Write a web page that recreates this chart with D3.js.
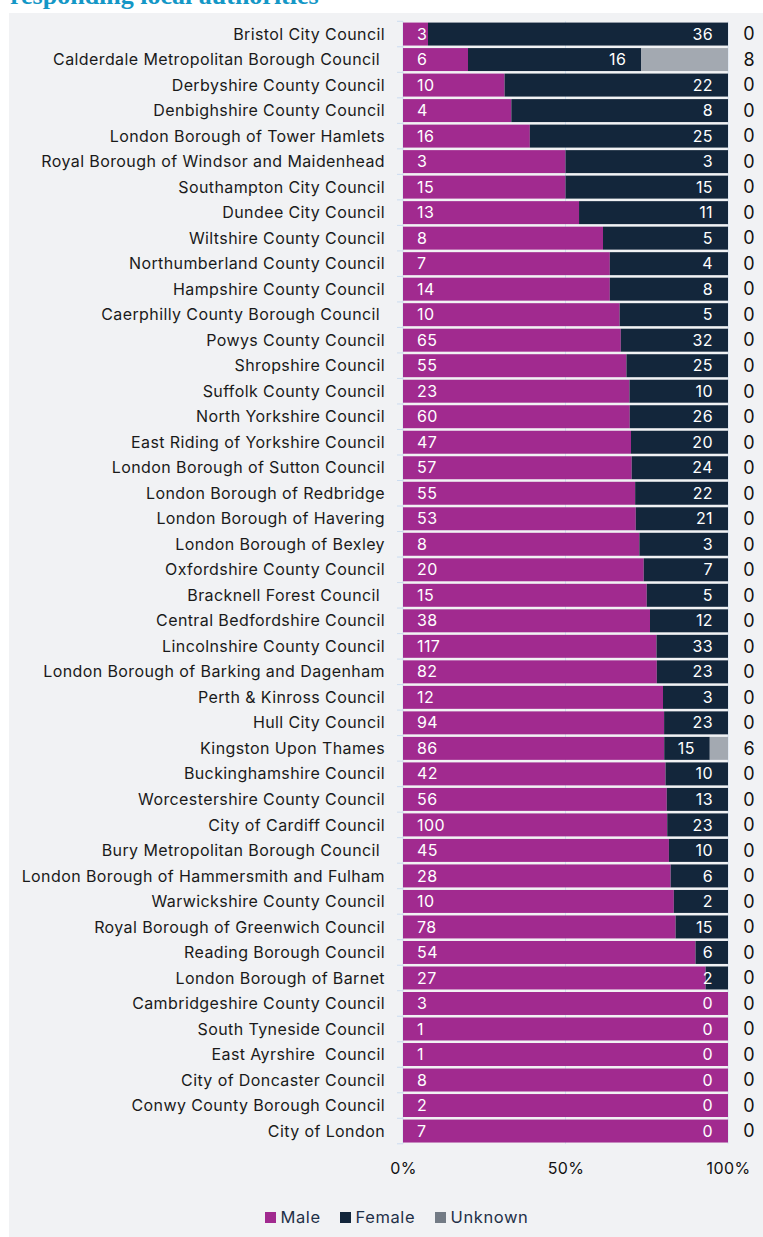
<!DOCTYPE html>
<html>
<head>
<meta charset="utf-8">
<script src="https://cdn.jsdelivr.net/npm/d3@7"></script>
<style>
  body { margin: 0; background: #fff; }
  svg { display: block; }
  text { font-family: Inter, "Noto Sans", sans-serif; letter-spacing: 0.4px; }
</style>
</head>
<body>
<script>
// stacked 100% bars: gender of responding staff per authority

const councils = [
  "Bristol City Council", "Calderdale Metropolitan Borough Council ", "Derbyshire County Council",
  "Denbighshire County Council", "London Borough of Tower Hamlets", "Royal Borough of Windsor and Maidenhead",
  "Southampton City Council", "Dundee City Council", "Wiltshire County Council",
  "Northumberland County Council", "Hampshire County Council", "Caerphilly County Borough Council ",
  "Powys County Council", "Shropshire Council", "Suffolk County Council", "North Yorkshire Council",
  "East Riding of Yorkshire Council", "London Borough of Sutton Council", "London Borough of Redbridge",
  "London Borough of Havering", "London Borough of Bexley", "Oxfordshire County Council",
  "Bracknell Forest Council ", "Central Bedfordshire Council", "Lincolnshire County Council",
  "London Borough of Barking and Dagenham", "Perth & Kinross Council", "Hull City Council",
  "Kingston Upon Thames", "Buckinghamshire Council", "Worcestershire County Council",
  "City of Cardiff Council", "Bury Metropolitan Borough Council ", "London Borough of Hammersmith and Fulham",
  "Warwickshire County Council", "Royal Borough of Greenwich Council", "Reading Borough Council",
  "London Borough of Barnet", "Cambridgeshire County Council", "South Tyneside Council",
  "East Ayrshire  Council", "City of Doncaster Council", "Conwy County Borough Council", "City of London"
];
const male = [3, 6, 10, 4, 16, 3, 15, 13, 8, 7, 14, 10, 65, 55, 23, 60, 47, 57, 55, 53, 8, 20, 15, 38,
  117, 82, 12, 94, 86, 42, 56, 100, 45, 28, 10, 78, 54, 27, 3, 1, 1, 8, 2, 7];
const female = [36, 16, 22, 8, 25, 3, 15, 11, 5, 4, 8, 5, 32, 25, 10, 26, 20, 24, 22, 21, 3, 7, 5, 12,
  33, 23, 3, 23, 15, 10, 13, 23, 10, 6, 2, 15, 6, 2, 0, 0, 0, 0, 0, 0];
const unknown = [0, 8, 0, 0, 0, 0, 0, 0, 0, 0, 0, 0, 0, 0, 0, 0, 0, 0, 0, 0, 0, 0, 0, 0,
  0, 0, 0, 0, 6, 0, 0, 0, 0, 0, 0, 0, 0, 0, 0, 0, 0, 0, 0, 0];
const seriesNames = ["Male", "Female", "Unknown"];
const pctTicks = [0, 0.5, 1];

const W = 763, H = 1237;
const colors = { Male: "#a12a8f", Female: "#13263b", Unknown: "#a3a9b1" };
const legendColors = { Male: "#a12a8f", Female: "#13263b", Unknown: "#737b85" };

const rows = councils.map((name, i) => ({
  name, Male: male[i], Female: female[i], Unknown: unknown[i],
  total: male[i] + female[i] + unknown[i]
}));

const svg = d3.select("body").append("svg").attr("width", W).attr("height", H);

// title sits mostly above the frame, as in the source page
svg.append("text")
  .attr("x", 10).attr("y", 4)
  .style("font-family", "'Liberation Serif', 'DejaVu Serif', serif")
  .style("font-weight", "bold").style("font-size", "26px").style("letter-spacing", "0")
  .attr("fill", "#1497c6")
  .text("responding local authorities");

svg.append("rect").attr("x", 9).attr("y", 13).attr("width", W - 9).attr("height", H - 13)
  .attr("fill", "#f1f2f4");

const x = d3.scaleLinear().domain([0, 1]).range([403, 728]);
const y = d3.scaleBand().domain(councils).range([21.3, 1143.8]).paddingInner(0.1).paddingOuter(0.05);

// grid
svg.append("g").selectAll("line").data(pctTicks).join("line")
  .attr("x1", d => x(d)).attr("x2", d => x(d))
  .attr("y1", y.range()[0]).attr("y2", y.range()[1])
  .attr("stroke", "#d3e0f0").attr("stroke-width", 1);

// tick marks between categories
const bounds = councils.map(c => y(c) - y.step() * y.paddingInner() / 2).concat([y.range()[1]]);
svg.append("g").selectAll("line").data(bounds).join("line")
  .attr("x1", x(0) - 6).attr("x2", x(0))
  .attr("y1", d => d).attr("y2", d => d)
  .attr("stroke", "#ccdcef").attr("stroke-width", 1);

const stack = d3.stack().keys(seriesNames).offset(d3.stackOffsetExpand);
const layers = stack(rows);

svg.append("g").selectAll("g").data(layers).join("g")
  .attr("fill", d => colors[d.key])
  .selectAll("rect").data(d => d).join("rect")
  .attr("x", d => x(d[0]))
  .attr("width", d => Math.max(0, x(d[1]) - x(d[0])))
  .attr("y", d => y(d.data.name))
  .attr("height", y.bandwidth());

const labelFont = "16px";

// category labels
svg.append("g").selectAll("text").data(rows).join("text")
  .attr("x", 385).attr("y", d => y(d.name) + y.bandwidth() / 2)
  .attr("dy", "0.35em").attr("text-anchor", "end")
  .style("font-size", labelFont).style("white-space", "pre")
  .attr("fill", "#1a1a1a")
  .text(d => d.name);

// male counts
svg.append("g").selectAll("text").data(rows).join("text")
  .attr("x", x(0) + 14).attr("y", d => y(d.name) + y.bandwidth() / 2)
  .attr("dy", "0.35em").style("font-size", labelFont).attr("fill", "#fff")
  .text(d => d.Male);

// female counts, right aligned in their segment
svg.append("g").selectAll("text").data(layers[1]).join("text")
  .attr("x", d => x(d[1]) - 15).attr("y", d => y(d.data.name) + y.bandwidth() / 2)
  .attr("dy", "0.35em").attr("text-anchor", "end")
  .style("font-size", labelFont).attr("fill", "#fff")
  .text(d => d.data.Female);

// unknown counts outside
svg.append("g").selectAll("text").data(rows).join("text")
  .attr("x", 749).attr("y", d => y(d.name) + y.bandwidth() / 2)
  .attr("dy", "0.35em").attr("text-anchor", "middle")
  .style("font-size", "18px").style("letter-spacing", "0").attr("fill", "#111")
  .text(d => d.Unknown);

// x axis
const ax = svg.append("g").attr("transform", "translate(0,1163)")
  .call(d3.axisBottom(x).tickValues(pctTicks).tickFormat(d3.format(".0%")).tickSize(0).tickPadding(0));
ax.select(".domain").remove();
ax.selectAll("text").style("font-size", labelFont).attr("fill", "#111")
  .style("font-family", "Inter, 'Noto Sans', sans-serif");

// legend
const legX = [265, 340, 435];
const leg = svg.append("g").selectAll("g").data(seriesNames).join("g")
  .attr("transform", (d, i) => `translate(${legX[i]},1217.5)`);
leg.append("rect").attr("x", 0).attr("y", -5.5).attr("width", 11).attr("height", 11)
  .attr("fill", d => legendColors[d]);
leg.append("text").attr("x", 15.5).attr("dy", "0.35em")
  .style("font-size", "16.5px").style("letter-spacing", "0.6px").attr("fill", "#1f3048")
  .text(d => d);
</script>
</body>
</html>
